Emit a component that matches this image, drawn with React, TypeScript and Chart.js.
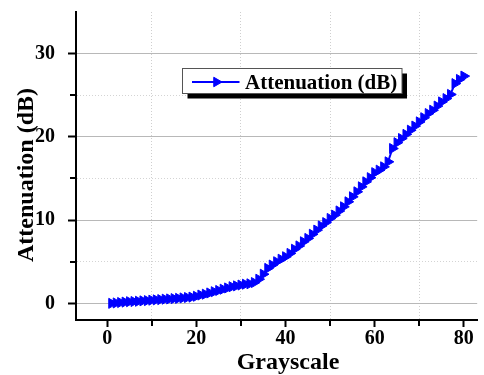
import { useEffect, useRef } from "react";
import { Chart, registerables } from "chart.js";
import { drawPoint } from "chart.js/helpers";

Chart.register(...registerables);

const grayscale = [
  1, 2, 3, 4, 5, 6, 7, 8, 9, 10, 11, 12, 13, 14, 15, 16, 17, 18, 19, 20,
  21, 22, 23, 24, 25, 26, 27, 28, 29, 30, 31, 32, 33, 34, 35, 36, 37, 38, 39, 40,
  41, 42, 43, 44, 45, 46, 47, 48, 49, 50, 51, 52, 53, 54, 55, 56, 57, 58, 59, 60,
  61, 62, 63, 64, 65, 66, 67, 68, 69, 70, 71, 72, 73, 74, 75, 76, 77, 78, 79, 80,
];

const attenuation = [
  0.0, 0.05, 0.1, 0.15, 0.2, 0.22, 0.25, 0.3, 0.33, 0.38, 0.42, 0.45, 0.5, 0.53, 0.57, 0.6, 0.65, 0.7, 0.75, 0.85,
  1.0, 1.1, 1.25, 1.4, 1.55, 1.7, 1.85, 2.0, 2.1, 2.2, 2.3, 2.35, 2.5, 2.9, 3.5, 4.2, 4.6, 5.0, 5.3, 5.6,
  6.0, 6.5, 6.9, 7.4, 7.8, 8.3, 8.8, 9.3, 9.7, 10.2, 10.6, 11.1, 11.6, 12.2, 12.8, 13.4, 14.0, 14.6, 15.1, 15.7,
  16.0, 16.4, 17.0, 18.6, 19.3, 19.8, 20.3, 20.8, 21.3, 21.8, 22.3, 22.8, 23.2, 23.7, 24.2, 24.6, 25.1, 26.4, 26.9, 27.3,
];

const xMajorTicks = [0, 20, 40, 60, 80];
const xMinorTicks = [10, 30, 50, 70];
const yMajorTicks = [0, 10, 20, 30];
const yMinorTicks = [5, 15, 25];

const seriesLabel = "Attenuation (dB)";
const xTitle = "Grayscale";
const yTitle = "Attenuation (dB)";

const FONT = "'Liberation Serif', 'Times New Roman', serif";
const BLUE = "#0000ff";

const decorPlugin = {
  id: "decor",
  afterDraw(chart: any) {
    const { ctx, chartArea, scales } = chart;
    const xs = scales.x;
    const ys = scales.y;
    ctx.save();
    // minor ticks
    ctx.strokeStyle = "#000";
    ctx.lineWidth = 2;
    ctx.beginPath();
    for (const v of yMinorTicks) {
      const py = Math.round(ys.getPixelForValue(v));
      ctx.moveTo(chartArea.left - 6, py);
      ctx.lineTo(chartArea.left - 1, py);
    }
    for (const v of xMinorTicks) {
      const px = Math.round(xs.getPixelForValue(v));
      ctx.moveTo(px, chartArea.bottom + 1);
      ctx.lineTo(px, chartArea.bottom + 6);
    }
    ctx.stroke();

    // axis titles
    ctx.fillStyle = "#000";
    ctx.font = `bold 24px ${FONT}`;
    ctx.textAlign = "center";
    ctx.textBaseline = "alphabetic";
    ctx.fillText(xTitle, chartArea.left + 212, 369);
    ctx.save();
    ctx.translate(33, chartArea.top + 163);
    ctx.rotate(-Math.PI / 2);
    ctx.fillText(yTitle, 0, 0);
    ctx.restore();

    // legend
    const lx = chartArea.left + 106.5;
    const ly = chartArea.top + 56.5;
    const lw = 219.5;
    const lh = 25;
    ctx.fillStyle = "#000";
    ctx.fillRect(lx + 5, ly + 5, lw, lh);
    ctx.fillStyle = "#fff";
    ctx.fillRect(lx, ly, lw, lh);
    ctx.strokeStyle = "#555";
    ctx.lineWidth = 1;
    ctx.strokeRect(lx, ly, lw, lh);
    const cy = ly + 13.5;
    ctx.strokeStyle = BLUE;
    ctx.lineWidth = 2;
    ctx.beginPath();
    ctx.moveTo(lx + 9.5, cy);
    ctx.lineTo(lx + 57, cy);
    ctx.stroke();
    ctx.fillStyle = BLUE;
    ctx.lineWidth = 1;
    drawPoint(ctx, { pointStyle: "triangle", rotation: 90, radius: 5.5, borderWidth: 1 } as any, lx + 34, cy);
    ctx.fillStyle = "#000";
    ctx.font = `bold 21px ${FONT}`;
    ctx.textAlign = "left";
    ctx.fillText(chart.data.datasets[0].label, lx + 62.5, ly + 20.5);
    ctx.restore();
  },
};

export default function App() {
  const ref = useRef<HTMLCanvasElement | null>(null);
  useEffect(() => {
    if (!ref.current) return;
    const points = grayscale.map((x, i) => ({ x, y: attenuation[i] }));
    const chart = new Chart(ref.current, {
      type: "line",
      data: {
        datasets: [
          {
            label: seriesLabel,
            data: points,
            borderColor: BLUE,
            backgroundColor: BLUE,
            borderWidth: 2,
            pointStyle: "triangle",
            rotation: 90,
            pointRadius: 5.8,
            pointBorderWidth: 1,
            pointBackgroundColor: BLUE,
            pointBorderColor: BLUE,
            tension: 0,
          } as any,
        ],
      },
      options: {
        responsive: false,
        animation: false,
        layout: { padding: { top: 12, right: 2.3, left: 0, bottom: 0 } },
        plugins: { legend: { display: false }, tooltip: { enabled: false } },
        scales: {
          x: {
            type: "linear",
            min: -7,
            max: 83,
            afterFit: (s: any) => {
              s.height = 55;
              s.paddingLeft = 0;
              s.paddingRight = 0;
              s.paddingTop = 0;
              s.paddingBottom = 0;
            },
            afterBuildTicks: (s: any) => {
              s.ticks = [...xMajorTicks, ...xMinorTicks].sort((a, b) => a - b).map((v) => ({ value: v }));
            },
            ticks: {
              autoSkip: false,
              maxRotation: 0,
              padding: 0,
              color: "#000",
              font: { family: FONT, size: 20, weight: "bold" },
              callback: (v: any) => (xMajorTicks.includes(Number(v)) ? String(v) : ""),
            },
            grid: {
              color: (c: any) => (c.tick && xMinorTicks.includes(c.tick.value) ? "#cfcfcf" : "rgba(0,0,0,0)"),
              lineWidth: 1,
              tickLength: 7,
              tickWidth: 2,
              tickColor: (c: any) => (c.tick && xMajorTicks.includes(c.tick.value) ? "#000" : "rgba(0,0,0,0)"),
            },
            border: {
              display: true,
              color: "#000",
              width: 2,
              dash: (c: any) => (c.tick ? [1, 2] : []),
            },
          },
          y: {
            type: "linear",
            min: -2,
            max: 35,
            afterFit: (s: any) => {
              s.width = 76;
              s.paddingLeft = 0;
              s.paddingRight = 0;
              s.paddingTop = 0;
              s.paddingBottom = 0;
            },
            afterBuildTicks: (s: any) => {
              s.ticks = [...yMajorTicks, ...yMinorTicks].sort((a, b) => a - b).map((v) => ({ value: v }));
            },
            ticks: {
              autoSkip: false,
              padding: 13,
              color: "#000",
              font: { family: FONT, size: 20, weight: "bold" },
              callback: (v: any) => (yMajorTicks.includes(Number(v)) ? String(v) : ""),
            },
            grid: {
              color: (c: any) => (c.tick && yMajorTicks.includes(c.tick.value) ? "#b8b8b8" : "#d4d4d4"),
              lineWidth: 1,
              tickLength: 8,
              tickWidth: 2,
              tickColor: (c: any) => (c.tick && yMajorTicks.includes(c.tick.value) ? "#000" : "rgba(0,0,0,0)"),
            },
            border: {
              display: true,
              color: "#000",
              width: 2,
              dash: (c: any) => (c.tick && yMinorTicks.includes(c.tick.value) ? [1, 2] : []),
            },
          },
        },
      },
      plugins: [decorPlugin],
    });
    return () => chart.destroy();
  }, []);
  return (
    <div style={{ position: "absolute", left: 0, top: 0, width: 484, height: 375, background: "#fff" }}>
      <canvas ref={ref} width={484} height={375} />
    </div>
  );
}
